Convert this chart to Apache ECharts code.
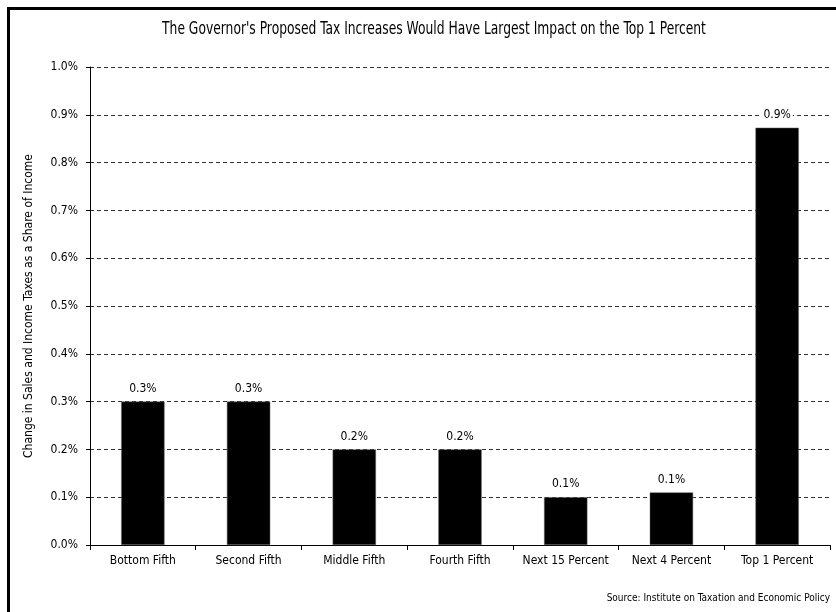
<!DOCTYPE html>
<html>
<head>
<meta charset="utf-8">
<script src="https://cdn.jsdelivr.net/npm/echarts@6/dist/echarts.min.js"></script>
<style>
html,body{margin:0;padding:0;background:#fff;}
#chart{width:836px;height:612px;}
</style>
</head>
<body>
<div id="chart"></div>
<script>
var categories = ['Bottom Fifth', 'Second Fifth', 'Middle Fifth', 'Fourth Fifth', 'Next 15 Percent', 'Next 4 Percent', 'Top 1 Percent'];
var values = [0.30, 0.30, 0.20, 0.20, 0.10, 0.11, 0.873];
var yTicks = [0, 0.1, 0.2, 0.3, 0.4, 0.5, 0.6, 0.7, 0.8, 0.9, 1.0];
var titleText = "The Governor's Proposed Tax Increases Would Have Largest Impact on the Top 1 Percent";
var yAxisTitle = 'Change in Sales and Income Taxes as a Share of Income';
var sourceText = 'Source: Institute on Taxation and Economic Policy';

var NARROW = "'Liberation Sans Narrow', 'Arial Narrow', 'DejaVu Sans Condensed', sans-serif";
var chart = echarts.init(document.getElementById('chart'));
chart.setOption({
  animation: false,
  backgroundColor: '#fff',
  grid: { left: 90, right: 6, top: 67, bottom: 67, containLabel: false },
  xAxis: {
    type: 'category',
    data: categories,
    axisLine: { lineStyle: { color: '#000', width: 1 } },
    axisTick: { show: true, length: 5, inside: false, lineStyle: { color: '#000' } },
    axisLabel: { color: '#000', fontFamily: NARROW, fontSize: 12, margin: 10, interval: 0 },
    splitLine: { show: false }
  },
  yAxis: {
    type: 'value',
    min: yTicks[0],
    max: yTicks[yTicks.length - 1],
    interval: 0.1,
    name: yAxisTitle,
    nameLocation: 'middle',
    nameGap: 55,
    nameTextStyle: { color: '#000', fontFamily: NARROW, fontSize: 12 },
    axisLine: { show: true, lineStyle: { color: '#000', width: 1 } },
    axisTick: { show: true, length: 4, lineStyle: { color: '#000' } },
    axisLabel: { color: '#000', fontFamily: NARROW, fontSize: 12, margin: 12,
      formatter: function (v) { return v.toFixed(1) + '%'; } },
    splitLine: { show: true, lineStyle: { color: '#333', type: [4, 3], width: 1 } }
  },
  series: [{
    type: 'bar',
    data: values,
    barWidth: '41%',
    itemStyle: { color: '#000', borderColor: '#666', borderWidth: 0.5 },
    label: {
      show: true,
      position: 'top',
      distance: 6,
      color: '#000',
      fontFamily: NARROW,
      fontSize: 12,
      backgroundColor: '#fff',
      padding: [1, 2],
      formatter: function (p) { return p.value.toFixed(1) + '%'; }
    }
  }],
  graphic: [
    { type: 'line', shape: { x1: 8.5, y1: 8, x2: 8.5, y2: 620 }, style: { stroke: '#000', lineWidth: 3 }, z: 100 },
    { type: 'line', shape: { x1: 7, y1: 8.5, x2: 840, y2: 8.5 }, style: { stroke: '#000', lineWidth: 3 }, z: 100 },
    { type: 'text', x: 434, y: 29, scaleX: 0.76, style: { text: titleText, textAlign: 'center', textVerticalAlign: 'middle',
        font: "18px " + NARROW, fill: '#000' } },
    { type: 'text', x: 830, y: 598, style: { text: sourceText, textAlign: 'right', textVerticalAlign: 'middle',
        font: "10px " + NARROW, fill: '#000' } }
  ]
});
</script>
</body>
</html>
